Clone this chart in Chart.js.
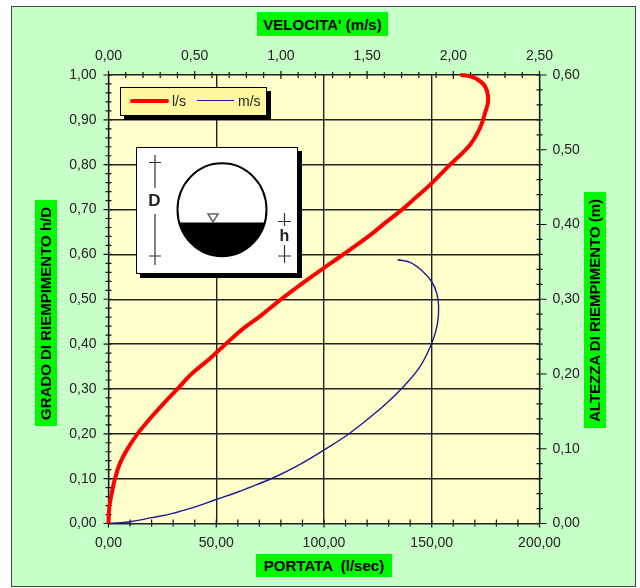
<!DOCTYPE html>
<html>
<head>
<meta charset="utf-8">
<script src="https://cdn.jsdelivr.net/npm/chart.js@4"></script>
<style>
    html, body { margin: 0; padding: 0; background: #fff; }
    #page { position: relative; width: 640px; height: 588px; overflow: hidden; font-family: "Liberation Sans", Arial, sans-serif; }
    #frame { position: absolute; left: 11px; top: 6px; width: 623px; height: 579px; background: #c8ffc8; border: 1.5px solid #444; }
    canvas { position: absolute; left: 0; top: 0; }
    .axis-title { position: absolute; background: #00f800; color: #000; font-weight: bold; font-size: 15px; white-space: pre; display: flex; align-items: center; justify-content: center; }
    .vertical { writing-mode: vertical-rl; transform: rotate(180deg); }
    #legend { position: absolute; left: 120px; top: 87px; width: 145px; height: 27px; background: #fff8a0; border: 1px solid #000; box-shadow: 4px 4px 0 #000; font-size: 14px; color: #222; }
    #legend span { position: absolute; top: 5px; }
    #legend i { position: absolute; display: block; }
    #inset { position: absolute; left: 136px; top: 147px; }
</style>
</head>
<body>
<div id="page">
    <div id="frame"></div>
    <canvas id="chart" width="640" height="588"></canvas>
    <div class="axis-title" style="left:257px;top:12px;width:131px;height:24px">VELOCITA' (m/s)</div>
    <div class="axis-title" style="left:256px;top:554px;width:136px;height:23px">PORTATA  (l/sec)</div>
    <div class="axis-title vertical" style="left:35px;top:200px;width:22px;height:226px">GRADO DI RIEMPIMENTO h/D</div>
    <div class="axis-title vertical" style="left:584px;top:192px;width:22px;height:236px">ALTEZZA DI RIEMPIMENTO (m)</div>
    <div id="legend"></div>
    <svg id="inset" width="168" height="133" viewBox="136 147 168 133">
        <defs><clipPath id="water"><rect x="170" y="222.5" width="110" height="40"/></clipPath></defs>
        <rect x="140" y="151" width="162" height="127" fill="#000"/>
        <rect x="136.5" y="147.5" width="161" height="126" fill="#fff" stroke="#000"/>
        <ellipse cx="222" cy="209.7" rx="44.5" ry="46.5" fill="#fff" stroke="#000" stroke-width="2"/>
        <ellipse cx="222" cy="209.7" rx="44.5" ry="46.5" fill="#000" clip-path="url(#water)"/>
        <path d="M208 214 H218 L213 222 Z" fill="#fff" stroke="#666" stroke-width="1.5"/>
        <path d="M155 155 V188 M155 214 V265 M149 162.5 H161 M149 256 H161" stroke="#333" stroke-width="1.2" fill="none"/>
        <path d="M284.500 213 V226 M284.500 245 V263 M278 221.500 H291 M278 256 H291" stroke="#333" stroke-width="1.2" fill="none"/>
        <text x="154.500" y="206" text-anchor="middle" font-size="17" font-weight="bold" fill="#222" font-family="Liberation Sans">D</text>
        <text x="284.500" y="241" text-anchor="middle" font-size="16" font-weight="bold" fill="#222" font-family="Liberation Sans">h</text>
    </svg>
</div>
<script>
/* =============================
   DATA
============================= */

const flowX = [0, 0.4, 1.5, 3, 5.3, 8.9, 13.8, 20, 27, 32, 38.4, 47.1, 54.8, 62.6, 70.3, 79.6, 90.4, 99.7, 106.6, 111.3, 121.4, 129.1, 136.8, 142.2, 149.2, 158.5, 167.7, 172.4, 174.7, 176.2, 174.7, 170.9, 167, 163.4];
const flowY = [0, 0.037, 0.067, 0.1, 0.134, 0.167, 0.202, 0.238, 0.275, 0.3, 0.333, 0.368, 0.402, 0.435, 0.462, 0.498, 0.537, 0.569, 0.592, 0.608, 0.643, 0.673, 0.702, 0.725, 0.755, 0.8, 0.844, 0.882, 0.915, 0.945, 0.975, 0.991, 0.998, 1];

const speedX = [0, 0.125, 0.251, 0.367, 0.502, 0.628, 0.734, 0.802, 0.956, 1.111, 1.25, 1.391, 1.556, 1.695, 1.807, 1.875, 1.907, 1.915, 1.904, 1.875, 1.817, 1.749, 1.677];
const speedY = [0, 0.004, 0.013, 0.022, 0.037, 0.054, 0.068, 0.078, 0.102, 0.132, 0.164, 0.199, 0.249, 0.299, 0.35, 0.402, 0.443, 0.483, 0.513, 0.539, 0.564, 0.582, 0.588];

const flowLabel = "l/s";
const speedLabel = "m/s";

/* =============================
   HELPERS
============================= */

const toPoints = (xs, ys) => xs.map((x, i) => ({ x: x, y: ys[i] }));
const comma = v => v.toFixed(2).replace(".", ",");

// label only every 5th tick, the others stay as small marks
const everyFifth = (value, index) => index % 5 === 0 ? comma(value) : "";

function axis(position, min, max, step, padding, size, showGrid) {
    const horizontal = position === "top" || position === "bottom";
    return {
        type: "linear",
        position: position,
        min: min,
        max: max,
        afterFit: scale => {
            if (horizontal) scale.height = size; else scale.width = size;
        },
        border: { display: false },
        grid: {
            display: showGrid,
            drawTicks: false,
            color: ctx => ctx.index % 5 === 0 ? "#222" : "rgba(0,0,0,0)",
            lineWidth: 1.4
        },
        ticks: {
            stepSize: step,
            autoSkip: false,
            maxRotation: 0,
            padding: padding,
            color: "#222",
            font: { family: "Liberation Sans", size: 14 },
            callback: everyFifth
        }
    };
}

/* =============================
   TICK MARKS + PLOT BACKGROUND
============================= */

const plotStyle = {
    id: "plotStyle",
    beforeDraw(chart) {
        const a = chart.chartArea;
        chart.ctx.fillStyle = "#ffffcc";
        chart.ctx.fillRect(a.left, a.top, a.width, a.height);
    },
    beforeDatasetsDraw(chart) {
        const ctx = chart.ctx;
        const a = chart.chartArea;
        ctx.save();
        ctx.strokeStyle = "#111";
        ctx.lineWidth = 1.2;
        ctx.beginPath();
        ["x", "x2", "y", "y2"].forEach(id => {
            const scale = chart.scales[id];
            scale.ticks.forEach((t, i) => {
                const p = scale.getPixelForValue(t.value);
                const major = i % 5 === 0;
                if (id === "x") { ctx.moveTo(p, a.bottom - 4); ctx.lineTo(p, a.bottom + (major ? 4 : 3)); }
                if (id === "x2") { ctx.moveTo(p, a.top - (major ? 4 : 3)); ctx.lineTo(p, a.top + (major ? 4 : 3)); }
                if (id === "y") { ctx.moveTo(a.left - (major ? 5 : 3), p); ctx.lineTo(a.left + 3, p); }
                if (id === "y2") { ctx.moveTo(a.right - 3, p); ctx.lineTo(a.right + (major ? 7 : 3), p); }
            });
        });
        ctx.moveTo(a.left, a.top); ctx.lineTo(a.left, a.bottom);
        ctx.moveTo(a.right, a.top); ctx.lineTo(a.right, a.bottom);
        ctx.stroke();
        ctx.restore();
    }
};

/* =============================
   CHART
============================= */

const chart = new Chart(document.getElementById("chart"), {
    type: "scatter",
    data: {
        datasets: [
            {
                label: flowLabel,
                data: toPoints(flowX, flowY),
                xAxisID: "x",
                yAxisID: "y",
                showLine: true,
                borderColor: "#ff0000",
                borderWidth: 4,
                pointRadius: 0,
                tension: 0.4,
                clip: false
            },
            {
                label: speedLabel,
                data: toPoints(speedX, speedY),
                xAxisID: "x2",
                yAxisID: "y",
                showLine: true,
                borderColor: "#1c1c90",
                borderWidth: 1.4,
                pointRadius: 0,
                tension: 0.4,
                clip: false
            }
        ]
    },
    options: {
        responsive: false,
        animation: false,
        layout: { padding: 0 },
        plugins: { legend: { display: false }, tooltip: { enabled: false } },
        scales: {
            x: axis("bottom", 0, 200, 10, 11, 64.5, true),
            x2: axis("top", 0, 2.5, 0.1, 10, 75, false),
            y: axis("left", 0, 1, 0.02, 12, 108.5, true),
            y2: axis("right", 0, 0.6, 0.02, 13, 100.5, false)
        }
    },
    plugins: [plotStyle]
});

/* Legend built from the datasets */
document.getElementById("legend").innerHTML = `
    <i style="left:9px;top:11px;width:39px;height:4px;border-radius:2px;background:${chart.data.datasets[0].borderColor}"></i>
    <span style="left:51px">${flowLabel}</span>
    <i style="left:76px;top:12px;width:37px;height:1.3px;background:${chart.data.datasets[1].borderColor}"></i>
    <span style="left:117px">${speedLabel}</span>
`;
</script>
</body>
</html>
